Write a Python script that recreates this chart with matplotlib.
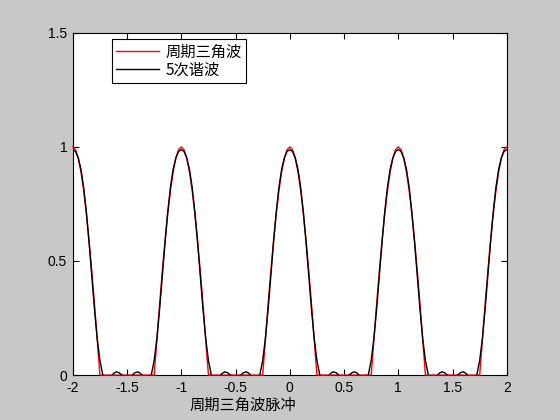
import numpy as np
import matplotlib
matplotlib.use('Agg')
import matplotlib.pyplot as plt

plt.rcParams['font.family'] = ['Liberation Sans', 'Noto Sans CJK SC', 'DejaVu Sans']

# one period, t from -0.5 to 0.5 (step 0.025)
t_period = np.arange(-0.5, 0.5001, 0.025)
# 周期三角波
tri_half = [1.0, 0.988, 0.951, 0.891, 0.809, 0.707, 0.588, 0.454, 0.309, 0.156,
            0.0, 0.0, 0.0, 0.0, 0.0, 0.0, 0.0, 0.0, 0.0, 0.0, 0.0]
# 5次谐波
harm_half = [0.988, 0.980, 0.952, 0.902, 0.823, 0.714, 0.581, 0.434, 0.288, 0.160,
             0.064, 0.004, -0.021, -0.020, -0.007, 0.007, 0.014, 0.011, 0.001, -0.008, -0.012]
periods = [-2, -1, 0, 1, 2]

tri_period = tri_half[:0:-1] + tri_half
harm_period = harm_half[:0:-1] + harm_half

x = np.concatenate([t_period + k for k in periods])
y_tri = np.tile(tri_period, len(periods))
y_harm = np.tile(harm_period, len(periods))

# 只保留 -2..2 区间
keep = (x >= -2.0001) & (x <= 2.0001)

fig = plt.figure(figsize=(5.6, 4.2), dpi=100, facecolor='#c8c8c8')
ax = fig.add_axes([0.13, 0.107, 0.775, 0.815])

ax.plot(x[keep], y_tri[keep], color='red', lw=1.0, label='周期三角波', zorder=3, clip_on=False)
ax.plot(x[keep], y_harm[keep], color='black', lw=1.0, label='5次谐波', zorder=4)

ax.set_xlim(-2, 2)
ax.set_ylim(0, 1.5)
ax.set_xticks([-2, -1.5, -1, -0.5, 0, 0.5, 1, 1.5, 2])
ax.set_xticklabels(['-2', '-1.5', '-1', '-0.5', '0', '0.5', '1', '1.5', '2'])
ax.set_yticks([0, 0.5, 1, 1.5])
ax.set_yticklabels(['0', '0.5', '1', '1.5'])
ax.tick_params(direction='in', top=True, right=True, length=4, labelsize=10, pad=4)
for s in ax.spines.values():
    s.set_linewidth(0.8)

ax.set_xlabel('周期三角波脉冲', fontsize=11, family=['Noto Sans CJK SC', 'DejaVu Sans'],
              ha='left')
ax.xaxis.set_label_coords(0.27, -0.065)

leg = ax.legend(loc='upper left', bbox_to_anchor=(0.09, 0.982), borderaxespad=0,
                fancybox=False, edgecolor='black', framealpha=1, handlelength=2.8,
                borderpad=0.3, labelspacing=0.05, handletextpad=0.4,
                prop={'family': ['Noto Sans CJK SC', 'DejaVu Sans'], 'size': 11})
leg.get_frame().set_linewidth(0.8)

fig.savefig('out.png', dpi=100, facecolor=fig.get_facecolor())
